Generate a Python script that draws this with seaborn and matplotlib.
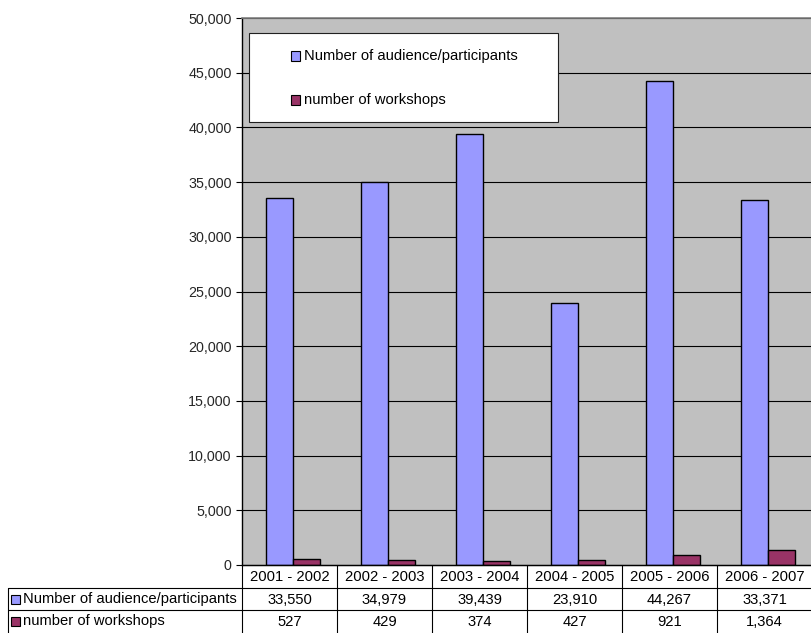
import matplotlib
matplotlib.use("Agg")
import matplotlib.pyplot as plt
import seaborn as sns
import pandas as pd
from matplotlib.patches import Rectangle

categories = ["2001 - 2002", "2002 - 2003", "2003 - 2004", "2004 - 2005", "2005 - 2006", "2006 - 2007"]
series_names = ["Number of audience/participants", "number of workshops"]
audience = [33550, 34979, 39439, 23910, 44267, 33371]
workshops = [527, 429, 374, 427, 921, 1364]
colors = ["#9999FF", "#993366"]

sns.set_theme(style="white")
plt.rcParams["font.family"] = ["Liberation Sans", "DejaVu Sans"]

W, H = 812, 633
fig = plt.figure(figsize=(W / 100, H / 100), dpi=100)
fig.patch.set_facecolor("white")

L, R, T, B = 242, 812, 18, 565
ax = fig.add_axes([L / W, 1 - B / H, (R - L) / W, (B - T) / H])

df = pd.DataFrame({
    "period": categories * 2,
    "series": [series_names[0]] * 6 + [series_names[1]] * 6,
    "value": audience + workshops,
})
sns.barplot(data=df, x="period", y="value", hue="series", order=categories,
            hue_order=series_names, palette=colors, width=0.57, ax=ax,
            edgecolor="black", linewidth=1, saturation=1, legend=False)

ax.set_facecolor("#C0C0C0")
ax.set_ylim(0, 50000)
ax.set_xlim(-0.537, 5.463)
ax.set_yticks(range(0, 50001, 5000))
ax.set_yticklabels([f"{v:,}" for v in range(0, 50001, 5000)], fontsize=10.3)
ax.yaxis.grid(True, color="black", linewidth=0.8)
ax.set_axisbelow(True)
ax.set_xticks([])
ax.set_xlabel("")
ax.set_ylabel("")
ax.tick_params(axis="y", direction="out", length=4.5, width=0.8, color="black", pad=3, left=True)
ax.spines["top"].set_color("#808080")
ax.spines["top"].set_linewidth(1.2)
ax.spines["right"].set_visible(False)
for s in ["left", "bottom"]:
    ax.spines[s].set_color("black")
    ax.spines[s].set_linewidth(1)

FS = 10.6
# legend box
lx0, lx1, ly0, ly1 = 249, 558, 33, 122
ax.add_patch(Rectangle(((lx0 - L) / (R - L), 1 - (ly1 - T) / (B - T)),
                       (lx1 - lx0) / (R - L), (ly1 - ly0) / (B - T),
                       transform=ax.transAxes, facecolor="white", edgecolor="#202020",
                       linewidth=0.8, zorder=5))
for i, (name, c) in enumerate(zip(series_names, colors)):
    yy = [56, 100][i]
    ax.add_patch(Rectangle(((291 - L) / (R - L), 1 - (yy + 4.5 - T) / (B - T)),
                           9 / (R - L), 9 / (B - T), transform=ax.transAxes,
                           facecolor=c, edgecolor="black", linewidth=0.8, zorder=6))
    ax.text((304 - L) / (R - L), 1 - (yy - T) / (B - T), name, transform=ax.transAxes,
            fontsize=FS, va="center", ha="left", zorder=6, color="black")

# data table
tax = fig.add_axes([0, 0, 1, 1 - B / H])
tax.set_xlim(0, W)
tax.set_ylim(H, B)
tax.axis("off")
cw = (R - L) / 6
lw = 0.8
tax.plot([L, R], [565, 565], color="black", lw=lw)
tax.plot([8, R], [588, 588], color="black", lw=lw)
tax.plot([8, R], [610, 610], color="black", lw=lw)
tax.plot([8, 8], [588, 633], color="black", lw=lw)
for k in range(6):
    x = L + k * cw
    tax.plot([x, x], [565, 633], color="black", lw=lw)
for k, cat in enumerate(categories):
    cx = L + (k + 0.5) * cw
    tax.text(cx, 577, cat, ha="center", va="center", fontsize=FS, color="black")
    tax.text(cx, 599.5, f"{audience[k]:,}", ha="center", va="center", fontsize=FS, color="black")
    tax.text(cx, 621.5, f"{workshops[k]:,}", ha="center", va="center", fontsize=FS, color="black")
for i, (name, c) in enumerate(zip(series_names, colors)):
    yy = [599.5, 621.5][i]
    tax.add_patch(Rectangle((11, yy - 4.5), 9, 9, facecolor=c, edgecolor="black", linewidth=0.8))
    tax.text(23, yy, name, ha="left", va="center", fontsize=FS, color="black")

fig.savefig("out.png", dpi=100, facecolor="white")
